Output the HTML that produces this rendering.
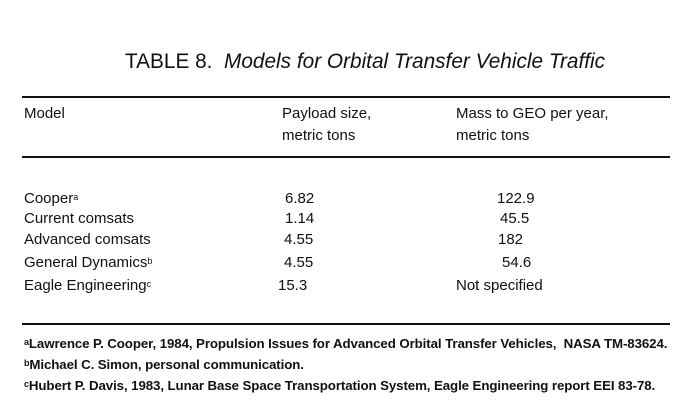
<!DOCTYPE html>
<html><head><meta charset="utf-8"><style>
body{margin:0;width:700px;height:410px;background:#fff;position:relative;font-family:"Liberation Sans",Arial,sans-serif;color:#111;overflow:hidden}
div{position:absolute;white-space:nowrap}
.t{font-size:15px;line-height:16px}
.f{font-size:13.3px;line-height:14px;font-weight:bold;letter-spacing:-0.1px}
.r{left:22px;width:648px;background:#111}
sup{font-size:9px;vertical-align:3px;line-height:0}
</style></head><body>
<div style="left:125px;top:50px;font-size:20.8px;line-height:24px">TABLE 8.&nbsp; <i>Models for Orbital Transfer Vehicle Traffic</i></div>
<div class="r" style="top:96px;height:2px"></div>
<div class="t" style="left:24px;top:106px">Model</div>
<div class="t" style="left:282px;top:106px">Payload size,</div>
<div class="t" style="left:282px;top:128px">metric tons</div>
<div class="t" style="left:456px;top:106px">Mass to GEO per year,</div>
<div class="t" style="left:456px;top:128px">metric tons</div>
<div class="r" style="top:156px;height:2px"></div>

<div class="t" style="left:24px;top:191px">Cooper<sup>a</sup></div>
<div class="t" style="left:285px;top:191px">6.82</div>
<div class="t" style="left:497px;top:191px">122.9</div>
<div class="t" style="left:24px;top:211px">Current comsats</div>
<div class="t" style="left:285px;top:211px">1.14</div>
<div class="t" style="left:500px;top:211px">45.5</div>
<div class="t" style="left:24px;top:232px">Advanced comsats</div>
<div class="t" style="left:284px;top:232px">4.55</div>
<div class="t" style="left:498px;top:232px">182</div>
<div class="t" style="left:24px;top:255px">General Dynamics<sup>b</sup></div>
<div class="t" style="left:284px;top:255px">4.55</div>
<div class="t" style="left:502px;top:255px">54.6</div>
<div class="t" style="left:24px;top:278px">Eagle Engineering<sup>c</sup></div>
<div class="t" style="left:278px;top:278px">15.3</div>
<div class="t" style="left:456px;top:278px">Not specified</div>
<div class="r" style="top:323px;height:2px"></div>

<div class="f" style="left:24px;top:337px"><sup>a</sup>Lawrence P. Cooper, 1984, Propulsion Issues for Advanced Orbital Transfer Vehicles,&nbsp; NASA TM-83624.</div>
<div class="f" style="left:24px;top:358px"><sup>b</sup>Michael C. Simon, personal communication.</div>
<div class="f" style="left:24px;top:379px"><sup>c</sup>Hubert P. Davis, 1983, Lunar Base Space Transportation System, Eagle Engineering report EEI 83-78.</div>
</body></html>
